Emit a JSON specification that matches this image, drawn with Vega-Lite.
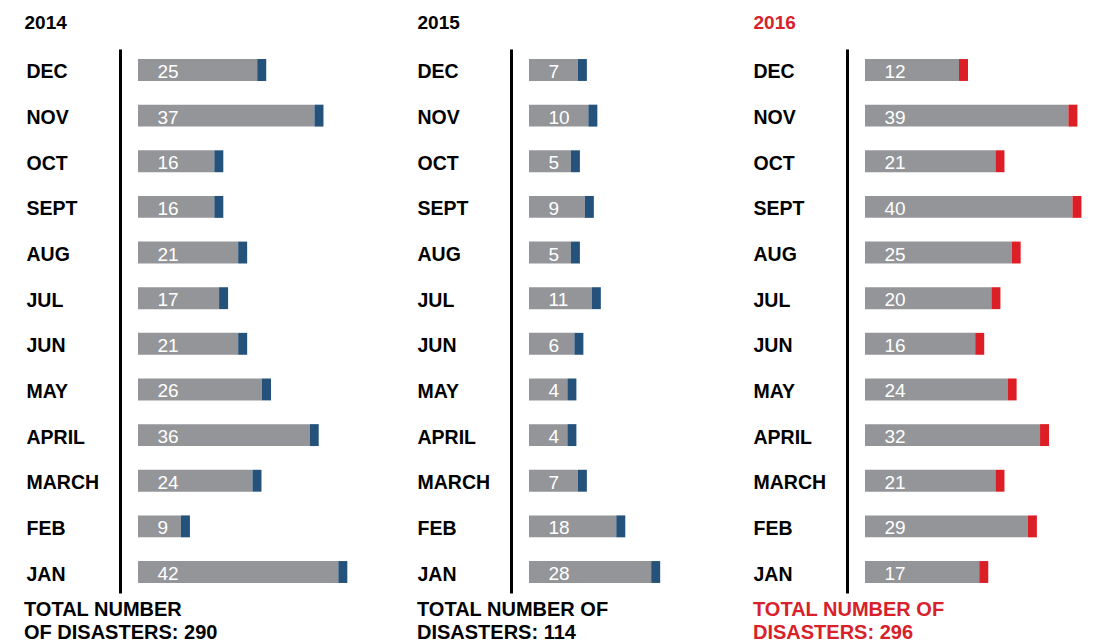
{
  "$schema": "https://vega.github.io/schema/vega-lite/v6.json",
  "padding": {"left": 24, "top": 13, "right": 0, "bottom": 0},
  "background": "white",
  "spacing": 10,
  "config": {
    "view": {"stroke": null},
    "font": "Liberation Sans",
    "axisY": {
      "domainColor": "black",
      "domainWidth": 3,
      "offset": 18,
      "ticks": false,
      "tickSize": 0,
      "grid": false,
      "labelAlign": "left",
      "labelPadding": 94,
      "labelFont": "Liberation Sans",
      "labelFontSize": 19.5,
      "labelFontWeight": "bold",
      "labelColor": "black",
      "labelOffset": 2.5,
      "titleAngle": 0,
      "titleAlign": "left",
      "titleBaseline": "alphabetic",
      "titleFont": "Liberation Sans",
      "titleFontSize": 19,
      "titleFontWeight": "bold",
      "titleY": -21
    },
    "title": {"orient": "bottom", "anchor": "start", "frame": "bounds", "font": "Liberation Sans", "fontSize": 20, "fontWeight": "bold", "color": "black", "lineHeight": 23, "offset": 7}
  },
  "data": {"values": [
    {"year": 2014, "month": "DEC", "n": 25},
    {"year": 2014, "month": "NOV", "n": 37},
    {"year": 2014, "month": "OCT", "n": 16},
    {"year": 2014, "month": "SEPT", "n": 16},
    {"year": 2014, "month": "AUG", "n": 21},
    {"year": 2014, "month": "JUL", "n": 17},
    {"year": 2014, "month": "JUN", "n": 21},
    {"year": 2014, "month": "MAY", "n": 26},
    {"year": 2014, "month": "APRIL", "n": 36},
    {"year": 2014, "month": "MARCH", "n": 24},
    {"year": 2014, "month": "FEB", "n": 9},
    {"year": 2014, "month": "JAN", "n": 42},
    {"year": 2015, "month": "DEC", "n": 7},
    {"year": 2015, "month": "NOV", "n": 10},
    {"year": 2015, "month": "OCT", "n": 5},
    {"year": 2015, "month": "SEPT", "n": 9},
    {"year": 2015, "month": "AUG", "n": 5},
    {"year": 2015, "month": "JUL", "n": 11},
    {"year": 2015, "month": "JUN", "n": 6},
    {"year": 2015, "month": "MAY", "n": 4},
    {"year": 2015, "month": "APRIL", "n": 4},
    {"year": 2015, "month": "MARCH", "n": 7},
    {"year": 2015, "month": "FEB", "n": 18},
    {"year": 2015, "month": "JAN", "n": 28},
    {"year": 2016, "month": "DEC", "n": 12},
    {"year": 2016, "month": "NOV", "n": 39},
    {"year": 2016, "month": "OCT", "n": 21},
    {"year": 2016, "month": "SEPT", "n": 40},
    {"year": 2016, "month": "AUG", "n": 25},
    {"year": 2016, "month": "JUL", "n": 20},
    {"year": 2016, "month": "JUN", "n": 16},
    {"year": 2016, "month": "MAY", "n": 24},
    {"year": 2016, "month": "APRIL", "n": 32},
    {"year": 2016, "month": "MARCH", "n": 21},
    {"year": 2016, "month": "FEB", "n": 29},
    {"year": 2016, "month": "JAN", "n": 17}
  ]},
  "hconcat": [
    {
      "width": 269, "height": 544,
      "title": {"text": ["TOTAL NUMBER", "OF DISASTERS: 290"]},
      "transform": [{"filter": "datum.year == 2014"}],
      "encoding": {
        "y": {"field": "month", "type": "nominal",
          "sort": ["DEC","NOV","OCT","SEPT","AUG","JUL","JUN","MAY","APRIL","MARCH","FEB","JAN"],
          "scale": {"paddingInner": 0.52, "paddingOuter": 0.22},
          "axis": {"title": "2014", "titleX": -96, "titleColor": "black"}}
      },
      "layer": [
        {"mark": {"type": "bar", "color": "#939598"},
         "encoding": {
           "x": {"field": "n", "type": "quantitative", "scale": {"domain": [0, 56.4], "zero": false, "nice": false}, "axis": null},
           "x2": {"datum": 0}}},
        {"mark": {"type": "bar", "color": "#24527a", "x2Offset": 9},
         "encoding": {"x": {"field": "n", "type": "quantitative", "axis": null}, "x2": {"field": "n"}}},
        {"mark": {"type": "text", "color": "white", "align": "left", "baseline": "middle", "dx": 19.5, "dy": 2, "fontSize": 19, "font": "Liberation Sans"},
         "encoding": {"x": {"datum": 0, "type": "quantitative", "axis": null}, "text": {"field": "n", "type": "quantitative"}}}
      ]
    },
    {
      "width": 214, "height": 544,
      "title": {"text": ["TOTAL NUMBER OF", "DISASTERS: 114"]},
      "transform": [{"filter": "datum.year == 2015"}],
      "encoding": {
        "y": {"field": "month", "type": "nominal",
          "sort": ["DEC","NOV","OCT","SEPT","AUG","JUL","JUN","MAY","APRIL","MARCH","FEB","JAN"],
          "scale": {"paddingInner": 0.52, "paddingOuter": 0.22},
          "axis": {"title": "2015", "titleX": -94, "titleColor": "black"}}
      },
      "layer": [
        {"mark": {"type": "bar", "color": "#939598"},
         "encoding": {
           "x": {"field": "n", "type": "quantitative", "scale": {"domain": [-7, 54.3], "zero": false, "nice": false}, "axis": null},
           "x2": {"datum": -7}}},
        {"mark": {"type": "bar", "color": "#24527a", "x2Offset": 9},
         "encoding": {"x": {"field": "n", "type": "quantitative", "axis": null}, "x2": {"field": "n"}}},
        {"mark": {"type": "text", "color": "white", "align": "left", "baseline": "middle", "dx": 19.5, "dy": 2, "fontSize": 19, "font": "Liberation Sans"},
         "encoding": {"x": {"datum": -7, "type": "quantitative", "axis": null}, "text": {"field": "n", "type": "quantitative"}}}
      ]
    },
    {
      "width": 250, "height": 544,
      "title": {"text": ["TOTAL NUMBER OF", "DISASTERS: 296"], "color": "#d7212b"},
      "transform": [{"filter": "datum.year == 2016"}],
      "encoding": {
        "y": {"field": "month", "type": "nominal",
          "sort": ["DEC","NOV","OCT","SEPT","AUG","JUL","JUN","MAY","APRIL","MARCH","FEB","JAN"],
          "scale": {"paddingInner": 0.52, "paddingOuter": 0.22},
          "axis": {"title": "2016", "titleX": -94, "titleColor": "#d7212b"}}
      },
      "layer": [
        {"mark": {"type": "bar", "color": "#939598"},
         "encoding": {
           "x": {"field": "n", "type": "quantitative", "scale": {"domain": [-11.2, 50.5], "zero": false, "nice": false}, "axis": null},
           "x2": {"datum": -11.2}}},
        {"mark": {"type": "bar", "color": "#dc1f26", "x2Offset": 9},
         "encoding": {"x": {"field": "n", "type": "quantitative", "axis": null}, "x2": {"field": "n"}}},
        {"mark": {"type": "text", "color": "white", "align": "left", "baseline": "middle", "dx": 19.5, "dy": 2, "fontSize": 19, "font": "Liberation Sans"},
         "encoding": {"x": {"datum": -11.2, "type": "quantitative", "axis": null}, "text": {"field": "n", "type": "quantitative"}}}
      ]
    }
  ]
}
